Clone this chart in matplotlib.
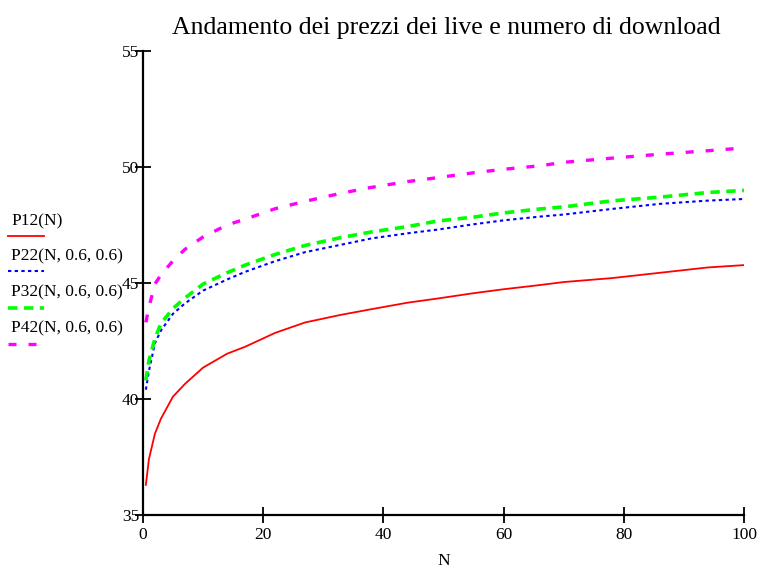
import matplotlib
matplotlib.use("Agg")
import matplotlib.pyplot as plt
from matplotlib.lines import Line2D

plt.rcParams["font.family"] = ["Liberation Serif", "DejaVu Serif"]

# values
n_values = [0.5, 1, 2, 3, 5, 7, 10, 14, 17, 22, 27, 33, 38, 44, 49, 55, 60, 66, 70, 78, 86, 94, 100]

p12 = [36.3, 37.4, 38.5, 39.15, 40.1, 40.65, 41.35, 41.95, 42.25, 42.85, 43.3, 43.63, 43.87,
       44.15, 44.33, 44.56, 44.73, 44.91, 45.04, 45.21, 45.44, 45.67, 45.77]
p22 = [40.4, 41.2, 42.4, 42.95, 43.67, 44.12, 44.67, 45.15, 45.48, 45.94, 46.33, 46.65, 46.92,
       47.14, 47.3, 47.53, 47.7, 47.86, 47.95, 48.19, 48.41, 48.55, 48.62]
p32 = [40.8, 41.65, 42.6, 43.25, 43.9, 44.35, 44.95, 45.44, 45.77, 46.23, 46.62, 46.96, 47.2,
       47.43, 47.67, 47.84, 48.02, 48.19, 48.28, 48.54, 48.7, 48.9, 48.99]
p42 = [43.3, 43.95, 44.95, 45.35, 45.95, 46.45, 46.98, 47.5, 47.75, 48.2, 48.52, 48.87, 49.12,
       49.37, 49.54, 49.75, 49.9, 50.05, 50.2, 50.38, 50.55, 50.7, 50.82]

labels = ["P12(N)", "P22(N, 0.6, 0.6)", "P32(N, 0.6, 0.6)", "P42(N, 0.6, 0.6)"]
x_ticks = [0, 20, 40, 60, 80, 100]
y_ticks = [35, 40, 45, 50, 55]

styles = [
    dict(color="#ff0000", lw=1.3, ls="-"),
    dict(color="#0000ff", lw=1.5, ls=(0, (1.6, 1.6))),
    dict(color="#00ff00", lw=2.6, ls=(0, (2.6, 1.8))),
    dict(color="#ff00ff", lw=2.4, ls=(0, (2.4, 3.6))),
]

fig = plt.figure(figsize=(7.64, 5.68), dpi=100)
ax = fig.add_axes([0.187, 0.0933, 0.787, 0.817])

for series, st in zip([p12, p22, p32, p42], styles):
    ax.plot(n_values, series, **st)

ax.set_xlim(0, 100)
ax.set_ylim(35, 55)
ax.set_xticks(x_ticks)
ax.set_yticks(y_ticks)
ax.tick_params(direction="inout", length=11, width=1.3, labelsize=12.5)
ax.tick_params(axis="x", pad=3)
ax.tick_params(axis="y", pad=-3)
for s in ["top", "right"]:
    ax.spines[s].set_visible(False)
for s in ["left", "bottom"]:
    ax.spines[s].set_linewidth(1.6)

ax.set_xlabel("N", fontsize=12.5, labelpad=7)
fig.text(0.584, 0.951, "Andamento dei prezzi dei live e numero di download",
         ha="center", va="center", fontsize=18.5)

# legend drawn like the original: text with the line sample underneath
text_y = [0.611, 0.548, 0.486, 0.421]
line_y = [0.585, 0.523, 0.458, 0.394]
for lab, st, ty, ly in zip(labels, styles, text_y, line_y):
    fig.text(0.015, ty, lab, fontsize=12.5, va="center", ha="left")
    fig.add_artist(Line2D([0.010, 0.058], [ly, ly],
                          transform=fig.transFigure, **st))

fig.savefig("out.png", dpi=100)
